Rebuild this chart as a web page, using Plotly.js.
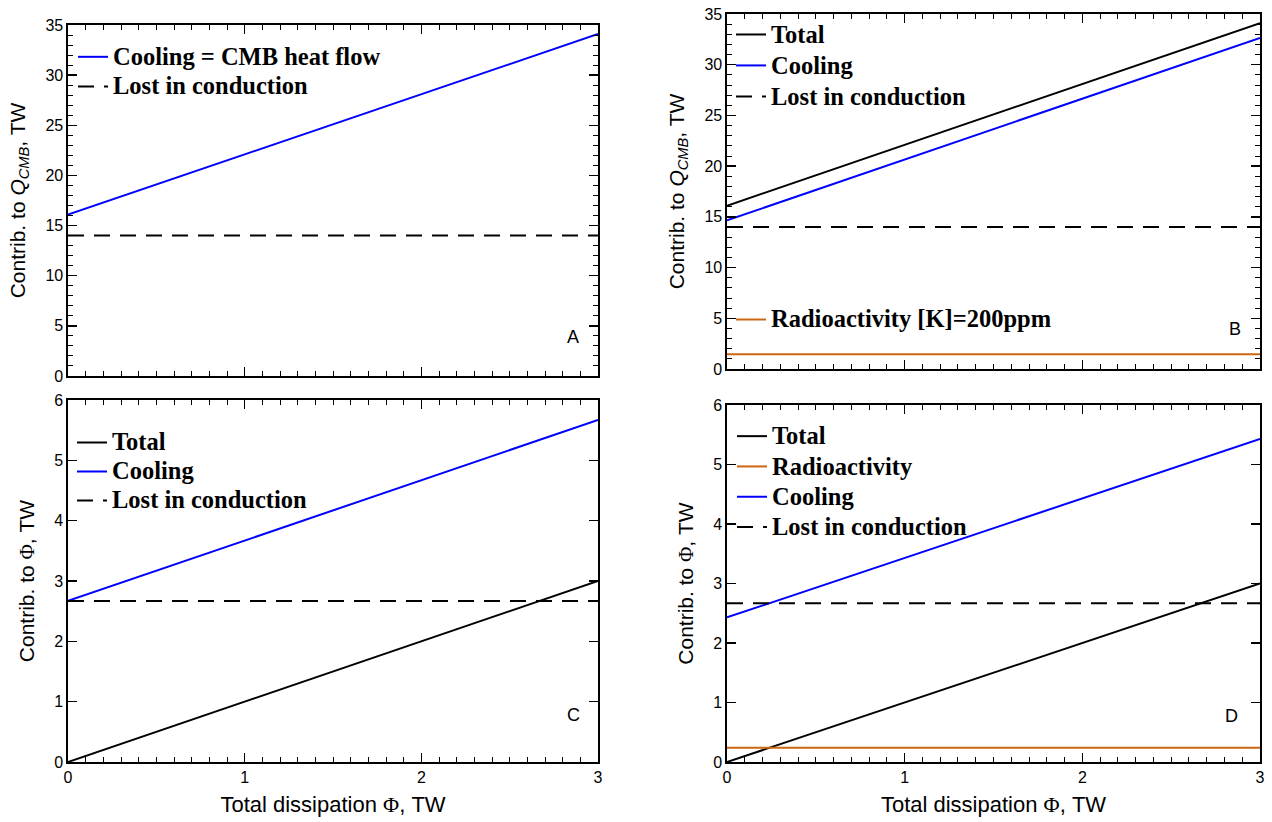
<!DOCTYPE html>
<html>
<head>
<meta charset="utf-8">
<script src="https://cdn.plot.ly/plotly-3.0.1.min.js"></script>
<style>html,body{margin:0;padding:0;background:#fff;}#chart{width:1272px;height:822px;}</style>
</head>
<body>
<div id="chart"></div>
<script>
// ---- data ----
const xPhi = [0, 3];
// Panel A (contributions to Q_CMB, no radioactivity)
const aCooling = [16.1, 34.1];
const aLost = [14.0, 14.0];
// Panel B (contributions to Q_CMB, [K]=200ppm)
const bTotal = [16.1, 34.1];
const bCooling = [14.65, 32.65];
const bLost = [14.0, 14.0];
const bRadio = [1.45, 1.45];
// Panel C (contributions to Phi, no radioactivity)
const cTotal = [0, 3];
const cCooling = [2.67, 5.67];
const cLost = [2.67, 2.67];
// Panel D (contributions to Phi, with radioactivity)
const dTotal = [0, 3];
const dRadio = [0.24, 0.24];
const dCooling = [2.43, 5.43];
const dLost = [2.67, 2.67];
const panelLabels = ['A', 'B', 'C', 'D'];
const xTicks = [0, 1, 2, 3];

const BLUE = '#0000ff', BLACK = '#000000', ORANGE = '#cc6610';
const DASH = '16px,10px';
function nm(s) { return '<span style="font-size:24.5px">' + s + '</span>'; }
function tr(x, y, name, color, dash, xa, ya, leg) {
  return {x: x, y: y, name: nm(name), type: 'scatter', mode: 'lines',
    line: {color: color, width: 2, dash: dash || 'solid'},
    xaxis: xa, yaxis: ya, legend: leg, hoverinfo: 'skip'};
}
const traces = [
  tr(xPhi, aCooling, 'Cooling = CMB heat flow', BLUE, null, 'x', 'y', 'legend'),
  tr(xPhi, aLost, 'Lost in conduction', BLACK, DASH, 'x', 'y', 'legend'),
  tr(xPhi, bTotal, 'Total', BLACK, null, 'x2', 'y2', 'legend2'),
  tr(xPhi, bCooling, 'Cooling', BLUE, null, 'x2', 'y2', 'legend2'),
  tr(xPhi, bLost, 'Lost in conduction', BLACK, DASH, 'x2', 'y2', 'legend2'),
  tr(xPhi, bRadio, 'Radioactivity [K]=200ppm', ORANGE, null, 'x2', 'y2', 'legend3'),
  tr(xPhi, cTotal, 'Total', BLACK, null, 'x3', 'y3', 'legend4'),
  tr(xPhi, cCooling, 'Cooling', BLUE, null, 'x3', 'y3', 'legend4'),
  tr(xPhi, cLost, 'Lost in conduction', BLACK, DASH, 'x3', 'y3', 'legend4'),
  tr(xPhi, dTotal, 'Total', BLACK, null, 'x4', 'y4', 'legend5'),
  tr(xPhi, dRadio, 'Radioactivity', ORANGE, null, 'x4', 'y4', 'legend5'),
  tr(xPhi, dCooling, 'Cooling', BLUE, null, 'x4', 'y4', 'legend5'),
  tr(xPhi, dLost, 'Lost in conduction', BLACK, DASH, 'x4', 'y4', 'legend5')
];

const W = 1272, H = 822;
const tickFont = {family: 'Liberation Sans, Arial, sans-serif', size: 16, color: '#000'};
const xTitleFont = {family: 'Liberation Sans, Arial, sans-serif', size: 22, color: '#000'};
const yTitleFont = {family: 'Liberation Sans, Arial, sans-serif', size: 21, color: '#000'};
function xAx(d0, d1, anchor, labels) {
  return {domain: [d0 / W, d1 / W], range: [0, 3], anchor: anchor,
    tickmode: 'array', tickvals: xTicks, showticklabels: labels,
    ticks: 'inside', ticklen: 9, tickwidth: 1.3, tickcolor: '#000',
    minor: {dtick: 0.1, ticks: 'inside', ticklen: 5, tickwidth: 1, tickcolor: '#000', showgrid: false},
    mirror: 'allticks', showline: true, linecolor: '#000', linewidth: 1.6,
    showgrid: false, zeroline: false, tickfont: tickFont,
    title: labels ? {text: 'Total dissipation <span style="font-family:Liberation Serif">Φ</span>, TW', font: xTitleFont, standoff: 12} : {text: ''}};
}
function yAx(top, bot, anchor, maxv, dt, minorDt, title) {
  const ax = {domain: [1 - bot / H, 1 - top / H], range: [0, maxv], anchor: anchor,
    dtick: dt, tick0: 0, ticks: 'inside', ticklen: 9, tickwidth: 1.3, tickcolor: '#000',
    mirror: 'allticks', showline: true, linecolor: '#000', linewidth: 1.6,
    showgrid: false, zeroline: false, tickfont: tickFont,
    title: {text: title, font: yTitleFont, standoff: 14}};
  if (minorDt) ax.minor = {dtick: minorDt, ticks: 'inside', ticklen: 5, tickwidth: 1, tickcolor: '#000', showgrid: false};
  return ax;
}
const qTitle = 'Contrib. to <i>Q</i><sub><i>CMB</i></sub>, TW';
const pTitle = 'Contrib. to <span style="font-family:Liberation Serif">Φ</span>, TW';
function leg(xpx, ypx, fs) {
  return {x: xpx / W, y: 1 - ypx / H, xanchor: 'left', yanchor: 'top',
    bgcolor: 'rgba(0,0,0,0)', borderwidth: 0, tracegroupgap: 0, itemclick: false,
    font: {family: 'Liberation Serif, Times New Roman, serif', size: fs, color: '#000', weight: 'bold'}};
}
function lab(t, xa, ya, fx, fy) {
  return {text: t, xref: xa + ' domain', yref: ya + ' domain', x: fx, y: fy,
    xanchor: 'center', yanchor: 'middle', showarrow: false,
    font: {family: 'Liberation Sans, Arial, sans-serif', size: 18, color: '#000'}};
}
const layout = {
  width: W, height: H, margin: {l: 0, r: 0, t: 0, b: 0},
  paper_bgcolor: '#fff', plot_bgcolor: '#fff', showlegend: true,
  xaxis: xAx(68, 598, 'y', false),
  yaxis: yAx(25, 376, 'x', 35, 5, 1, qTitle),
  xaxis2: xAx(727, 1260, 'y2', false),
  yaxis2: yAx(14, 369, 'x2', 35, 5, 1, qTitle),
  xaxis3: xAx(68, 598, 'y3', true),
  yaxis3: yAx(400, 762, 'x3', 6, 1, null, pTitle),
  xaxis4: xAx(727, 1260, 'y4', true),
  yaxis4: yAx(405, 762, 'x4', 6, 1, null, pTitle),
  legend: leg(73, 37, 20.5),
  legend2: leg(731, 14, 21.5),
  legend3: leg(731, 300, 20),
  legend4: leg(72, 423, 20),
  legend5: leg(732, 416, 21),
  annotations: [
    lab(panelLabels[0], 'x', 'y', 0.953, 0.112),
    lab(panelLabels[1], 'x2', 'y2', 0.953, 0.113),
    lab(panelLabels[2], 'x3', 'y3', 0.953, 0.13),
    lab(panelLabels[3], 'x4', 'y4', 0.947, 0.13)
  ]
};
Plotly.newPlot('chart', traces, layout, {displayModeBar: false, staticPlot: true});
</script>
</body>
</html>
